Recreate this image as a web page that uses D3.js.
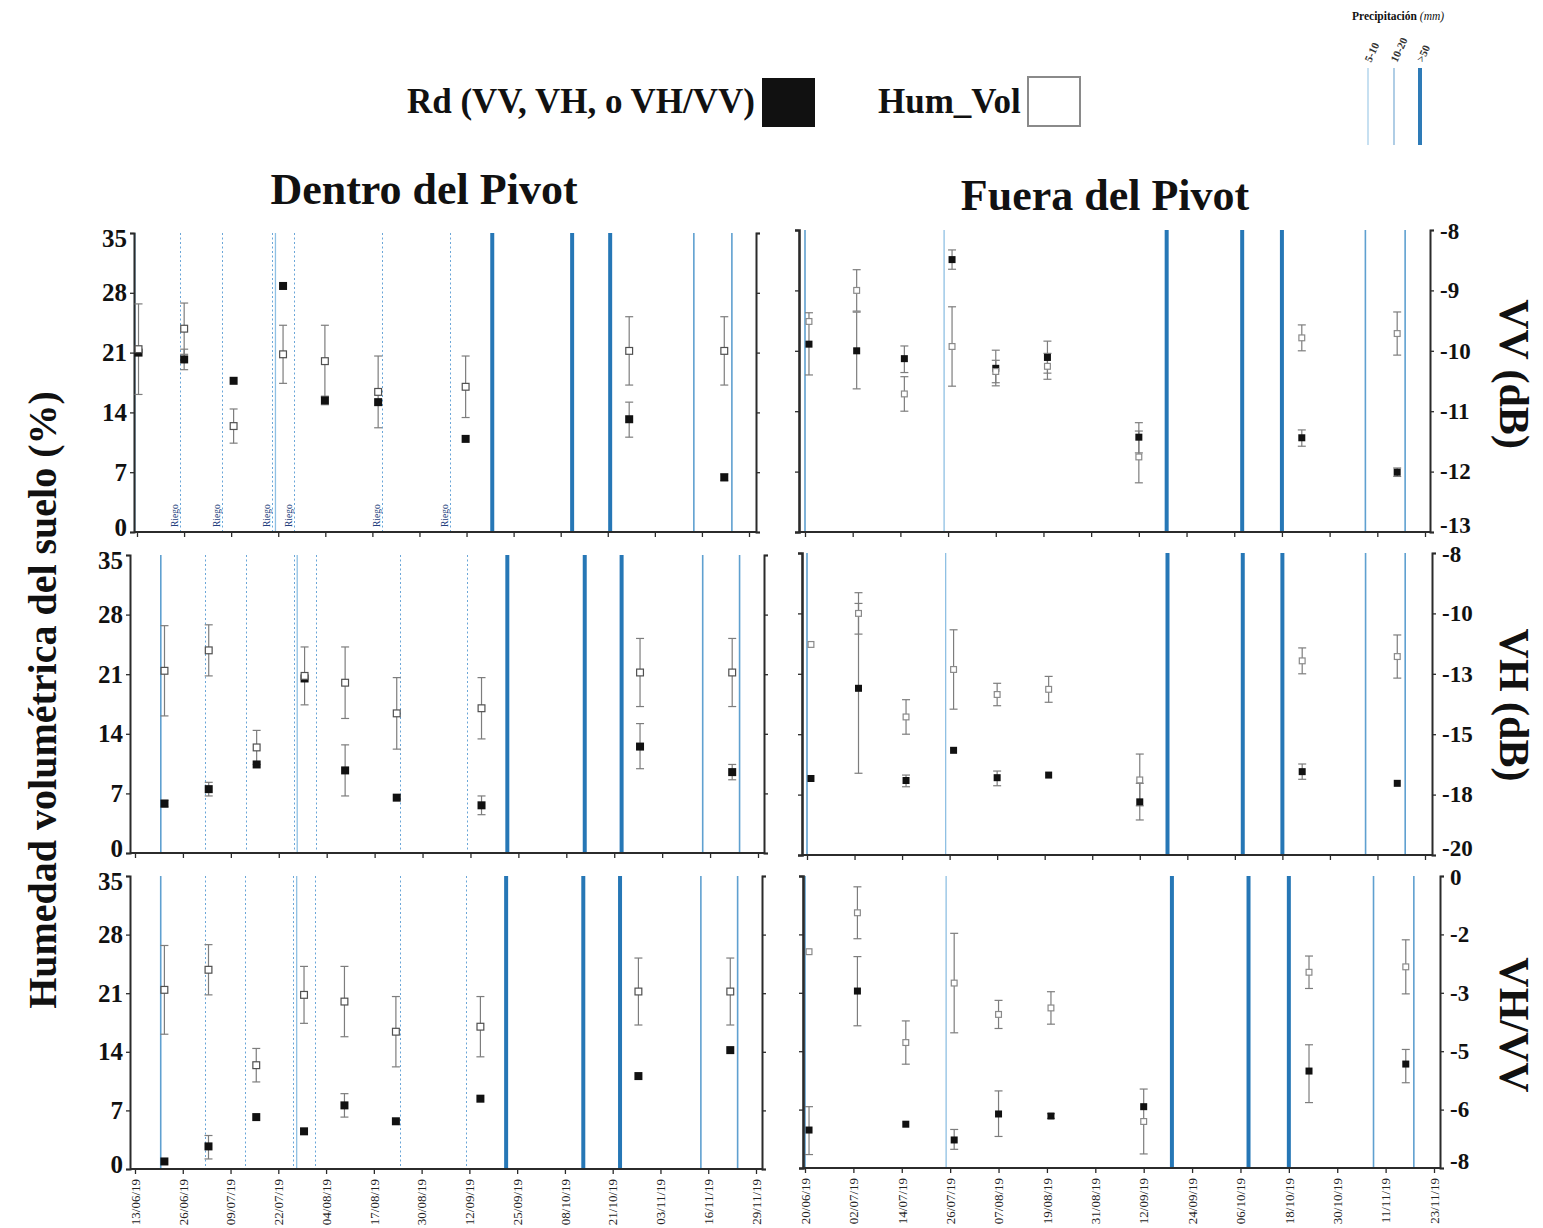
<!DOCTYPE html>
<html>
<head>
<meta charset="utf-8">
<script src="https://cdn.jsdelivr.net/npm/d3@7"></script>
<style>
  body { margin: 0; background: #fff; }
  svg { display: block; }
  text { font-family: "Liberation Serif", "Times New Roman", serif; }
</style>
</head>
<body>
<svg id="chart" width="1543" height="1228"></svg>
<script>
// ---- axis ticks ----
const humTicks = [0, 7, 14, 21, 28, 35];
const vvTicks = [-13, -12, -11, -10, -9, -8];
const vhTicks = [-20, -18, -15, -13, -10, -8];
const ratioTicks = [-8, -6, -5, -3, -2, 0];
const dentroTickLabels = ["13/06/19","26/06/19","09/07/19","22/07/19","04/08/19","17/08/19","30/08/19","12/09/19","25/09/19","08/10/19","21/10/19","03/11/19","16/11/19","29/11/19"];
const fueraTickLabels = ["20/06/19","02/07/19","14/07/19","26/07/19","07/08/19","19/08/19","31/08/19","12/09/19","24/09/19","06/10/19","18/10/19","30/10/19","11/11/19","23/11/19"];

// ---- acquisition dates ----
const dentroDates = ["2019-06-21","2019-07-03","2019-07-16","2019-07-29","2019-08-09","2019-08-23","2019-09-15","2019-10-28","2019-11-22"];
const fueraDates = ["2019-06-21","2019-07-03","2019-07-15","2019-07-27","2019-08-07","2019-08-20","2019-09-12","2019-10-23","2019-11-16"];

// ---- volumetric soil moisture (%) mean and standard deviation ----
const humDentro = [21.4, 23.8, 12.4, 20.8, 20.0, 16.4, 17.0, 21.2, 21.2];
const humDentroSd = [5.3, 3.0, 2.0, 3.4, 4.2, 4.2, 3.6, 4.0, 4.0];
const humFuera = [24.4, 28.0, 16.0, 21.5, 18.6, 19.2, 8.7, 22.5, 23.0];
const humFueraSd = [0, 2.4, 2.0, 4.6, 1.3, 1.5, 3.0, 1.5, 2.5];

// ---- backscatter (Rd); inside pivot on the moisture axis, outside pivot in dB ----
const rdDentroVV = [21.0, 20.2, 17.7, 28.8, 15.4, 15.2, 10.9, 13.2, 6.4];
const rdDentroVVRange = [null, [19.0, 21.4], null, null, [14.9, 15.9], null, null, [11.1, 15.2], [6.0, 6.8]];
const rdDentroVH = [5.8, 7.5, 10.4, 20.5, 9.7, 6.5, 5.6, 12.5, 9.5];
const rdDentroVHRange = [[5.4, 6.2], [6.7, 8.3], null, null, [6.7, 12.7], null, [4.5, 6.7], [9.9, 15.2], [8.6, 10.4]];
const rdDentroRatio = [0.9, 2.7, 6.2, 4.5, 7.6, 5.7, 8.4, 11.1, 14.2];
const rdDentroRatioRange = [null, [1.2, 4.0], null, [4.2, 4.8], [6.2, 9.0], null, null, null, null];

const rdFueraVV = [-9.89, -10.0, -10.13, -8.49, -10.29, -10.11, -11.43, -11.44, -12.01];
const rdFueraVVRange = [[-10.40, -9.37], [-10.63, -9.36], [-10.36, -9.92], [-8.65, -8.33], [-10.58, -9.99], [-10.37, -9.84], [-11.69, -11.19], [-11.58, -11.31], [-12.08, -11.94]];
const rdFueraVH = [-17.2, -13.48, -17.3, -15.8, -17.16, -17.03, -18.24, -16.86, -17.44];
const rdFueraVHRange = [null, [-16.94, -9.67], [-17.61, -17.03], null, [-17.56, -16.83], null, [-18.84, -17.44], [-17.24, -16.48], null];
const rdFueraRatio = [-6.70, -2.97, -6.5, -7.04, -6.15, -6.22, -5.95, -5.34, -5.22];
const rdFueraRatioRange = [[-7.54, -5.95], [-4.13, -2.38], null, [-7.36, -6.68], [-6.92, -5.68], [-6.30, -6.14], null, [-5.88, -4.78], [-5.54, -4.94]];

// ---- precipitation events and irrigation ----
const rainClasses = ["5-10", "10-20", ">50"];
const dentroRain = ["2019-06-20","2019-07-27","2019-09-22","2019-10-13","2019-10-23","2019-11-14","2019-11-24"];
const dentroRainClass = ["10-20","5-10",">50",">50",">50","10-20","10-20"];
const dentroRiego = ["2019-07-02","2019-07-13","2019-07-26","2019-08-01","2019-08-24","2019-09-11"];
const fueraRain = ["2019-06-20","2019-07-25","2019-09-19","2019-10-08","2019-10-18","2019-11-08","2019-11-18"];
const fueraRainClass = ["10-20","5-10",">50",">50",">50","10-20","10-20"];

// ---- styles ----
const rainColor = { "5-10": "#8fc0e3", "10-20": "#5fa0d0", ">50": "#2677b6" };
const rainWidth = { "5-10": 1.3, "10-20": 1.6, ">50": 4 };
const axisColor = "#2b2b2b";

const svg = d3.select("#chart");
const parseIso = d3.utcParse("%Y-%m-%d");
const parseTick = d3.utcParse("%d/%m/%y");
const fmtTick = d3.utcFormat("%d/%m/%y");

function styleAxis(sel, width) {
  sel.attr("font-family", null).attr("font-size", null);
  sel.select(".domain").attr("stroke", axisColor).attr("stroke-width", width);
  sel.selectAll(".tick line").attr("stroke", axisColor).attr("stroke-width", 1.3);
}

// end labels sit slightly inside the axis span
function nudgeEnds(sel, lo, hi) {
  const t = sel.selectAll(".tick text");
  const n = t.size();
  t.attr("dy", (d, i) => i === 0 ? `${0.32 - lo}em` : i === n - 1 ? `${0.32 + hi}em` : "0.32em");
}

function drawPanel(c) {
  const g = svg.append("g");
  const x = d3.scaleUtc().domain(c.domain).range(c.xRange);
  const yPos = d3.scaleLinear().domain([0, 35]).range([c.bottom, c.top]);
  const yHum = d3.scaleLinear().domain(c.humDomain).range([c.bottom, c.top]);
  const yRd = c.rdTicks ? d3.scaleLinear().domain(c.rdTicks).range(humTicks.map(yPos)) : yPos;
  const dates = c.dates.map(parseIso);

  // irrigation (dotted)
  g.append("g").selectAll("line").data(c.riego.map(parseIso)).join("line")
    .attr("x1", d => Math.round(x(d)) + 0.5).attr("x2", d => Math.round(x(d)) + 0.5)
    .attr("y1", c.top).attr("y2", c.bottom)
    .attr("stroke", "#6aa6d8").attr("stroke-width", 1).attr("stroke-dasharray", "2,2.5");
  if (c.riegoLabels) {
    g.append("g").selectAll("text").data(c.riego.map(parseIso)).join("text")
      .attr("transform", d => `translate(${x(d) - 2},${c.bottom - 5}) rotate(-90)`)
      .attr("font-size", 9.5).attr("fill", "#243f7d")
      .text("Riego");
  }
  // rain events
  g.append("g").selectAll("line")
    .data(c.rain.map((d, i) => ({ date: parseIso(d), cls: c.rainClass[i] }))).join("line")
    .attr("x1", d => x(d.date)).attr("x2", d => x(d.date))
    .attr("y1", c.top).attr("y2", c.bottom)
    .attr("stroke", d => rainColor[d.cls]).attr("stroke-width", d => rainWidth[d.cls]);

  // left axis
  const la = g.append("g").attr("transform", `translate(${c.leftAxisX},0)`)
    .call(d3.axisLeft(yPos).tickValues(humTicks).tickSize(4).tickSizeOuter(4).tickPadding(3)
      .tickFormat(c.leftLabels ? d3.format("d") : ""));
  styleAxis(la, c.leftAxisW || 2);
  la.selectAll(".tick text").attr("font-size", 25).attr("font-weight", "bold").attr("fill", "#111");
  nudgeEnds(la, 0.18, 0.2);

  // right axis
  const ra = g.append("g").attr("transform", `translate(${c.rightAxisX},0)`)
    .call(d3.axisRight(yRd).tickValues(c.rdTicks || humTicks).tickSize(4).tickSizeOuter(4).tickPadding(6)
      .tickFormat(c.rdTicks ? (d => String(d)) : ""));
  styleAxis(ra, 2);
  ra.selectAll(".tick text").attr("font-size", 23).attr("font-weight", "bold").attr("fill", "#111");
  nudgeEnds(ra, 0.3, 0.05);

  // bottom axis
  const ba = g.append("g").attr("transform", `translate(0,${c.bottom})`)
    .call(d3.axisBottom(x).tickValues(c.ticks).tickSize(5).tickSizeOuter(0)
      .tickFormat(c.dateLabels ? fmtTick : ""));
  styleAxis(ba, 2);
  ba.select(".domain").attr("d", `M${c.leftAxisX},0H${c.rightAxisX}`);
  if (c.dateLabels) {
    ba.selectAll(".tick text")
      .attr("transform", "rotate(-90)")
      .attr("text-anchor", "end")
      .attr("x", -10).attr("y", 0).attr("dy", "0.33em")
      .attr("font-size", 13).attr("fill", "#222");
  }

  // error bars
  const bars = [];
  c.hum.forEach((v, i) => {
    if (c.humSd[i] > 0) bars.push({ x: x(dates[i]), y1: yHum(v - c.humSd[i]), y2: yHum(v + c.humSd[i]) });
  });
  c.rd.forEach((v, i) => {
    const r = c.rdRange[i];
    if (r) bars.push({ x: x(dates[i]), y1: yRd(r[0]), y2: yRd(r[1]) });
  });
  const eb = g.append("g").attr("stroke", "#7d7d7d").attr("stroke-width", 1.2);
  eb.selectAll(".stem").data(bars).join("line").attr("class", "stem")
    .attr("x1", d => d.x).attr("x2", d => d.x).attr("y1", d => d.y1).attr("y2", d => d.y2);
  eb.selectAll(".capLo").data(bars).join("line").attr("class", "capLo")
    .attr("x1", d => d.x - 4).attr("x2", d => d.x + 4).attr("y1", d => d.y1).attr("y2", d => d.y1);
  eb.selectAll(".capHi").data(bars).join("line").attr("class", "capHi")
    .attr("x1", d => d.x - 4).attr("x2", d => d.x + 4).attr("y1", d => d.y2).attr("y2", d => d.y2);

  // markers: Rd (filled) and Hum_Vol (hollow)
  const s = c.markerSize;
  g.append("g").selectAll("rect").data(c.rd).join("rect")
    .attr("x", (d, i) => x(dates[i]) - s / 2).attr("y", d => yRd(d) - s / 2)
    .attr("width", s).attr("height", s).attr("fill", "#111");
  g.append("g").selectAll("rect").data(c.hum).join("rect")
    .attr("x", (d, i) => x(dates[i]) - s / 2 + 0.6).attr("y", d => yHum(d) - s / 2 + 0.6)
    .attr("width", s - 1.2).attr("height", s - 1.2)
    .attr("fill", "#fff").attr("stroke", c.hollowStroke).attr("stroke-width", 1.2);
}

// ---- panel definitions ----
const dentroTicks = dentroTickLabels.map(parseTick);
const fueraTicks = fueraTickLabels.map(parseTick);
const vvInsideDomain = [d3.isoParse("2019-06-20T14:24:00Z"), d3.isoParse("2019-11-28T12:00:00Z")];
const vvInsideTicks = d3.range(14).map(i => new Date(+vvInsideDomain[0] + i * (vvInsideDomain[1] - vvInsideDomain[0]) / 13));

const dentroBase = {
  dates: dentroDates, hum: humDentro, humSd: humDentroSd, humDomain: [0, 35],
  rain: dentroRain, rainClass: dentroRainClass, riego: dentroRiego,
  leftLabels: true, markerSize: 8, hollowStroke: "#505050"
};
const fueraBase = {
  dates: fueraDates, hum: humFuera, humSd: humFueraSd, humDomain: [0, 35],
  rain: fueraRain, rainClass: fueraRainClass, riego: [],
  leftLabels: false, markerSize: 7, hollowStroke: "#8a8a8a", leftAxisW: 2.6,
  domain: [fueraTicks[0], fueraTicks[13]], ticks: fueraTicks
};

drawPanel({ ...dentroBase, domain: vvInsideDomain, ticks: vvInsideTicks, xRange: [137, 749],
  leftAxisX: 134, rightAxisX: 756, top: 233, bottom: 532,
  rd: rdDentroVV, rdRange: rdDentroVVRange, riegoLabels: true });
drawPanel({ ...dentroBase, domain: [dentroTicks[0], dentroTicks[13]], ticks: dentroTicks, xRange: [135, 758],
  leftAxisX: 130, rightAxisX: 764, top: 555, bottom: 853,
  rd: rdDentroVH, rdRange: rdDentroVHRange });
drawPanel({ ...dentroBase, domain: [dentroTicks[0], dentroTicks[13]], ticks: dentroTicks, xRange: [135, 756],
  leftAxisX: 130, rightAxisX: 762, top: 876, bottom: 1169,
  rd: rdDentroRatio, rdRange: rdDentroRatioRange, dateLabels: true });

drawPanel({ ...fueraBase, xRange: [805, 1425], leftAxisX: 799, rightAxisX: 1430, top: 230, bottom: 532,
  rd: rdFueraVV, rdRange: rdFueraVVRange, rdTicks: vvTicks });
drawPanel({ ...fueraBase, xRange: [807, 1425], leftAxisX: 802, rightAxisX: 1432, top: 553, bottom: 855,
  rd: rdFueraVH, rdRange: rdFueraVHRange, rdTicks: vhTicks });
drawPanel({ ...fueraBase, xRange: [805, 1434], leftAxisX: 803, rightAxisX: 1440, top: 876, bottom: 1168,
  humDomain: [4.4, 31.4], rd: rdFueraRatio, rdRange: rdFueraRatioRange, rdTicks: ratioTicks, dateLabels: true });

// ---- titles ----
svg.append("text").attr("x", 424).attr("y", 204).attr("text-anchor", "middle")
  .attr("font-size", 44).attr("font-weight", "bold").attr("fill", "#111").text("Dentro del Pivot");
svg.append("text").attr("x", 1105).attr("y", 210).attr("text-anchor", "middle")
  .attr("font-size", 44).attr("font-weight", "bold").attr("fill", "#111").text("Fuera del Pivot");
svg.append("text").attr("transform", "translate(56,700) rotate(-90)").attr("text-anchor", "middle")
  .attr("font-size", 40).attr("font-weight", "bold").attr("fill", "#111").text("Humedad volumétrica del suelo (%)");

const rightTitles = [["VV (dB)", 374], ["VH (dB)", 705], ["VH/VV", 1025]];
svg.append("g").selectAll("text").data(rightTitles).join("text")
  .attr("transform", d => `translate(1500,${d[1]}) rotate(90)`).attr("text-anchor", "middle")
  .attr("font-size", 42).attr("font-weight", "bold").attr("fill", "#111").text(d => d[0]);

// ---- series legend ----
svg.append("text").attr("x", 755).attr("y", 113).attr("text-anchor", "end")
  .attr("font-size", 35).attr("font-weight", "bold").attr("fill", "#111").text("Rd (VV, VH, o VH/VV)");
svg.append("rect").attr("x", 762).attr("y", 78).attr("width", 53).attr("height", 49).attr("fill", "#111");
svg.append("text").attr("x", 878).attr("y", 113)
  .attr("font-size", 35).attr("font-weight", "bold").attr("fill", "#111").text("Hum_Vol");
svg.append("rect").attr("x", 1028).attr("y", 77).attr("width", 52).attr("height", 49)
  .attr("fill", "#fff").attr("stroke", "#8a8a8a").attr("stroke-width", 2);

// ---- precipitation legend ----
const pl = svg.append("g");
const plTitle = pl.append("text").attr("x", 1352).attr("y", 20).attr("font-size", 11.5).attr("fill", "#111");
plTitle.append("tspan").attr("font-weight", "bold").text("Precipitación ");
plTitle.append("tspan").attr("font-style", "italic").text("(mm)");
const legendX = d3.scalePoint().domain(rainClasses).range([1368, 1420]);
const legendColor = { "5-10": "#a9cfea", "10-20": "#85b3d8", ">50": "#2e7bb7" };
pl.selectAll("line").data(rainClasses).join("line")
  .attr("x1", d => legendX(d)).attr("x2", d => legendX(d)).attr("y1", 68).attr("y2", 145)
  .attr("stroke", d => legendColor[d]).attr("stroke-width", d => d === ">50" ? 4 : 1.3);
pl.selectAll("text.cls").data(rainClasses).join("text").attr("class", "cls")
  .attr("transform", d => `translate(${legendX(d) + 3},${63}) rotate(-65)`)
  .attr("font-size", 11).attr("font-weight", "bold").attr("fill", "#333").text(d => d);
</script>
</body>
</html>
